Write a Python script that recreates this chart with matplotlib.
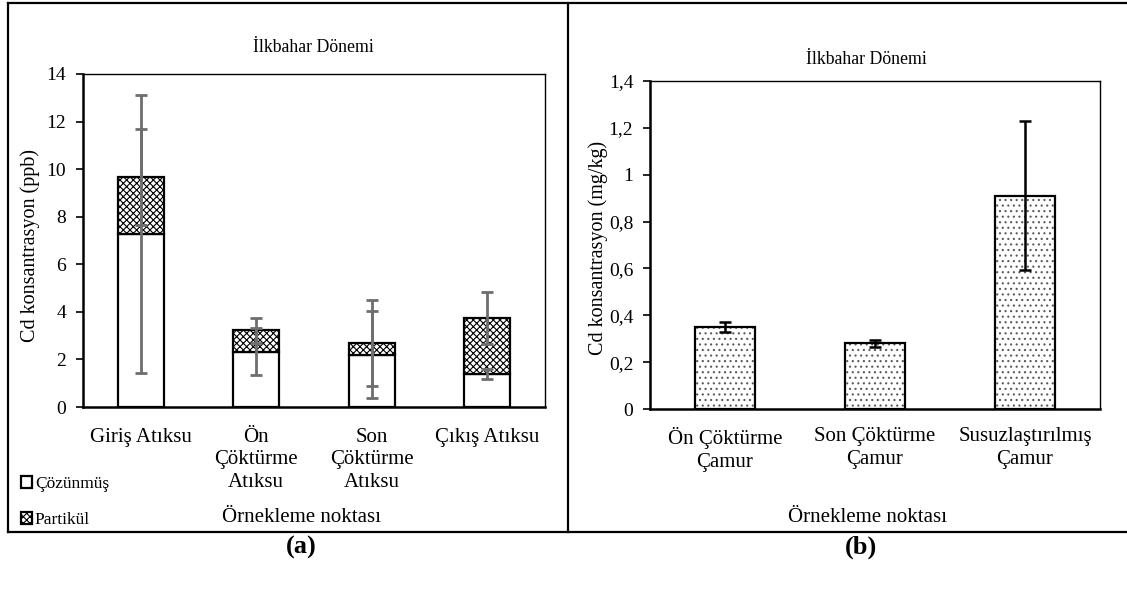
import matplotlib
matplotlib.use("Agg")
import matplotlib.pyplot as plt
from matplotlib.lines import Line2D

plt.rcParams['font.family'] = ['Liberation Serif', 'DejaVu Serif']
plt.rcParams['hatch.linewidth'] = 0.8

# ---- data: panel (a) wastewater, Cd in ppb ----
categories_a = ["Giriş Atıksu", "Ön\nÇöktürme\nAtıksu", "Son\nÇöktürme\nAtıksu", "Çıkış Atıksu"]
cozunmus = [7.27, 2.33, 2.19, 1.39]
partikul = [2.40, 0.89, 0.50, 2.35]
cozunmus_err = [5.85, 1.00, 1.83, 0.21]
partikul_err = [2.00, 0.52, 1.81, 1.08]
yticks_a = [0, 2, 4, 6, 8, 10, 12, 14]

# ---- data: panel (b) sludge, Cd in mg/kg ----
categories_b = ["Ön Çöktürme\nÇamur", "Son Çöktürme\nÇamur", "Susuzlaştırılmış\nÇamur"]
camur = [0.35, 0.28, 0.91]
camur_err = [0.022, 0.016, 0.318]
yticks_b = [0, 0.2, 0.4, 0.6, 0.8, 1.0, 1.2, 1.4]
yticklabels_b = ["0", "0,2", "0,4", "0,6", "0,8", "1", "1,2", "1,4"]

W, H = 1127, 594
fig = plt.figure(figsize=(W / 100, H / 100), dpi=100)

def fx(px):
    return px / W

def fy(py):
    return 1 - py / H

FS_TITLE = 12.8
FS_TICK = 14
FS_CAT = 15
FS_YLAB = 14.5
FS_LEG = 12.5
LS_CAT = 1.25
ERR_GRAY = "#6e6e6e"

def style_axes(ax):
    for s in ("left", "bottom"):
        ax.spines[s].set_linewidth(1.8)
    for s in ("top", "right"):
        ax.spines[s].set_linewidth(1.0)
    ax.tick_params(axis="y", direction="out", length=5, width=1.2, pad=7, labelsize=FS_TICK)
    ax.tick_params(axis="x", length=0, labelsize=FS_CAT)

# ---------------- panel (a) ----------------
axa = fig.add_axes([fx(83), fy(407), fx(545) - fx(83), fy(74) - fy(407)])
xa = list(range(len(categories_a)))
bw = 0.4
b1 = axa.bar(xa, cozunmus, width=bw, color="white", edgecolor="black", linewidth=1.6,
             label="Çözünmüş", zorder=2)
b2 = axa.bar(xa, partikul, width=bw, bottom=cozunmus, color="white", edgecolor="black",
             hatch="xxxxx", linewidth=1.6, label="Partikül", zorder=2)
tops = [c + p for c, p in zip(cozunmus, partikul)]
axa.errorbar(xa, cozunmus, yerr=cozunmus_err, fmt="none", ecolor=ERR_GRAY,
             elinewidth=2, capsize=4.5, capthick=2, zorder=3)
axa.errorbar(xa, tops, yerr=partikul_err, fmt="none", ecolor=ERR_GRAY,
             elinewidth=2, capsize=4.5, capthick=2, zorder=3)
axa.set_xlim(-0.5, len(categories_a) - 0.5)
axa.set_ylim(0, 14)
axa.set_yticks(yticks_a)
axa.set_xticks(xa)
axa.set_xticklabels(categories_a, linespacing=LS_CAT, va="top")
style_axes(axa)
axa.tick_params(axis="x", pad=15)

fig.text(fx(313), fy(47), "İlkbahar Dönemi", ha="center", va="center", fontsize=FS_TITLE)
fig.text(fx(30), fy(246), "Cd konsantrasyon (ppb)", ha="center", va="center",
         rotation=90, fontsize=FS_YLAB)
fig.text(fx(302), fy(518), "Örnekleme noktası", ha="center", va="center", fontsize=FS_CAT)

fig.legend(handles=[b1, b2], loc="upper left",
           bbox_to_anchor=(fx(21), fy(476)), frameon=False, fontsize=FS_LEG,
           handlelength=0.65, handleheight=0.65, handletextpad=0.15,
           labelspacing=1.15, borderpad=0, borderaxespad=0)

# ---------------- panel (b) ----------------
axb = fig.add_axes([fx(650), fy(409), fx(1100) - fx(650), fy(81) - fy(409)])
xb = list(range(len(categories_b)))
axb.bar(xb, camur, width=bw, color="white", edgecolor="#5a5a5a", hatch="...",
        linewidth=0, zorder=2)
axb.bar(xb, camur, width=bw, color="none", edgecolor="black", linewidth=1.6, zorder=2)
axb.errorbar(xb, camur, yerr=camur_err, fmt="none", ecolor="black",
             elinewidth=1.8, capsize=4.5, capthick=1.8, zorder=3)
axb.set_xlim(-0.5, len(categories_b) - 0.5)
axb.set_ylim(0, 1.4)
axb.set_yticks(yticks_b)
axb.set_yticklabels(yticklabels_b)
axb.set_xticks(xb)
axb.set_xticklabels(categories_b, linespacing=LS_CAT, va="top")
style_axes(axb)
axb.tick_params(axis="x", pad=13)

fig.text(fx(866), fy(60), "İlkbahar Dönemi", ha="center", va="center", fontsize=FS_TITLE)
fig.text(fx(598), fy(248), "Cd konsantrasyon (mg/kg)", ha="center", va="center",
         rotation=90, fontsize=FS_YLAB)
fig.text(fx(867), fy(518), "Örnekleme noktası", ha="center", va="center", fontsize=FS_CAT)

# ---------------- outer frames and panel letters ----------------
frame_kw = dict(color="black", linewidth=1.6, transform=fig.transFigure)
fig.add_artist(Line2D([fx(8), fx(1140)], [fy(3), fy(3)], **frame_kw))
fig.add_artist(Line2D([fx(8), fx(1140)], [fy(532), fy(532)], **frame_kw))
fig.add_artist(Line2D([fx(8), fx(8)], [fy(3), fy(532)], **frame_kw))
fig.add_artist(Line2D([fx(568), fx(568)], [fy(3), fy(532)], **frame_kw))

fig.text(fx(301), fy(547), "(a)", ha="center", va="center", fontsize=19, fontweight="bold")
fig.text(fx(861), fy(547), "(b)", ha="center", va="center", fontsize=19, fontweight="bold")

fig.savefig("out.png", dpi=100)
